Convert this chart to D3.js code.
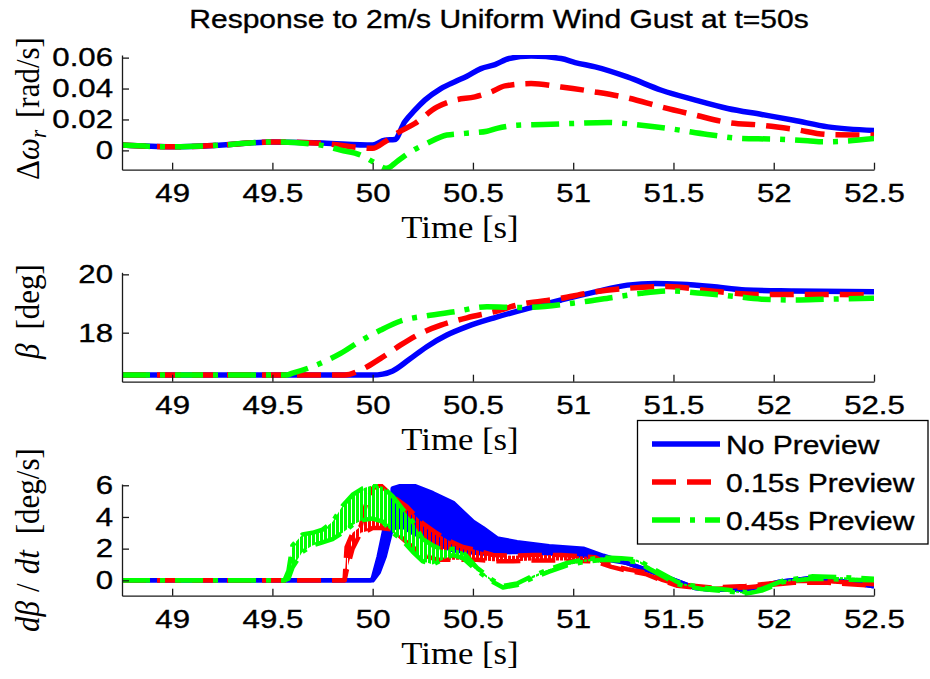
<!DOCTYPE html>
<html>
<head>
<meta charset="utf-8">
<script src="https://cdnjs.cloudflare.com/ajax/libs/d3/7.8.5/d3.min.js"></script>
<style>
body { margin: 0; background: #fff; }
svg { display: block; }
.axis path, .axis line { stroke: #1a1a1a; stroke-width: 1.3; }
.axis text { font-family: 'Liberation Sans', Arial, sans-serif; font-size: 26px; fill: #000; stroke: #000; stroke-width: 0.35; }
.label { font-family: 'Liberation Serif', 'Times New Roman', serif; font-size: 31px; fill: #000; }
.sans { font-family: 'Liberation Sans', Arial, sans-serif; fill: #000; stroke: #000; stroke-width: 0.35; }
</style>
</head>
<body>
<svg id="chart"></svg>
<script>
var width = 930,
  height = 679;

// time axis, shared by the three panels
var xTicks = [49, 49.5, 50, 50.5, 51, 51.5, 52, 52.5];
var seriesNames = ['No Preview', '0.15s Preview', '0.45s Preview'];

// panel 1: rotor speed deviation [rad/s]
var dwTicks = [0, 0.02, 0.04, 0.06];
var dwBlueT = [48.75, 49.0, 49.25, 49.5, 49.75, 50.0, 50.06, 50.11, 50.16, 50.21, 50.26, 50.34, 50.42, 50.47, 50.54, 50.61, 50.68, 50.79, 50.94, 51.01, 51.11, 51.27, 51.44, 51.61, 51.77, 51.94, 52.10, 52.27, 52.5];
var dwBlue = [0.0034, 0.0023, 0.0035, 0.0055, 0.0048, 0.0034, 0.0066, 0.007, 0.0185, 0.026, 0.0325, 0.040, 0.045, 0.048, 0.0529, 0.0555, 0.0594, 0.061, 0.0594, 0.0568, 0.054, 0.0475, 0.0389, 0.0325, 0.0271, 0.0232, 0.0195, 0.0152, 0.0129];
var dwRedT = [48.75, 49.0, 49.25, 49.5, 49.75, 50.0, 50.06, 50.12, 50.21, 50.32, 50.41, 50.51, 50.59, 50.66, 50.79, 50.94, 51.11, 51.27, 51.44, 51.61, 51.77, 51.94, 52.10, 52.27, 52.5];
var dwRed = [0.0034, 0.0023, 0.0035, 0.0055, 0.0045, 0.0013, 0.0055, 0.011, 0.0174, 0.028, 0.0325, 0.0346, 0.0378, 0.0417, 0.0432, 0.041, 0.0378, 0.034, 0.0281, 0.0228, 0.0181, 0.0163, 0.0137, 0.0103, 0.0099];
var dwGreenT = [48.75, 49.0, 49.25, 49.5, 49.74, 49.84, 49.94, 50.0, 50.07, 50.12, 50.19, 50.27, 50.37, 50.46, 50.57, 50.62, 50.72, 50.85, 50.99, 51.17, 51.34, 51.50, 51.67, 51.84, 52.0, 52.17, 52.25, 52.5];
var dwGreen = [0.0034, 0.0023, 0.0035, 0.0055, 0.0034, 0.0002, -0.003, -0.0073, -0.0116, -0.0073, -0.0009, 0.0045, 0.0099, 0.011, 0.0124, 0.0142, 0.0163, 0.0168, 0.0174, 0.0181, 0.0163, 0.0137, 0.0103, 0.0077, 0.0073, 0.0062, 0.0055, 0.0077];

// panel 2: pitch angle [deg]
var betaTicks = [18, 20];
var betaBlueT = [48.75, 50.0, 50.05, 50.1, 50.18, 50.27, 50.37, 50.47, 50.61, 50.78, 50.94, 51.11, 51.27, 51.41, 51.54, 51.69, 51.86, 52.1, 52.5];
var betaBlue = [16.55, 16.55, 16.58, 16.69, 17.07, 17.52, 17.92, 18.21, 18.52, 18.84, 19.12, 19.4, 19.63, 19.69, 19.66, 19.58, 19.46, 19.43, 19.4];
var betaRedT = [48.75, 49.86, 49.94, 50.04, 50.14, 50.24, 50.34, 50.47, 50.64, 50.69, 50.94, 51.11, 51.27, 51.47, 51.69, 51.91, 52.27, 52.5];
var betaRed = [16.55, 16.55, 16.72, 17.12, 17.58, 17.98, 18.26, 18.51, 18.78, 18.89, 19.18, 19.4, 19.52, 19.58, 19.43, 19.31, 19.31, 19.29];
var betaGreenT = [48.75, 49.57, 49.6, 49.74, 49.84, 49.94, 50.04, 50.14, 50.27, 50.41, 50.57, 50.74, 51.03, 51.19, 51.34, 51.49, 51.64, 51.77, 51.94, 52.10, 52.27, 52.5];
var betaGreen = [16.55, 16.55, 16.61, 16.95, 17.29, 17.72, 18.09, 18.4, 18.58, 18.72, 18.89, 18.86, 19.04, 19.2, 19.35, 19.43, 19.35, 19.27, 19.15, 19.12, 19.15, 19.18];

// panel 3: pitch rate [deg/s], oscillating, so kept as upper / lower envelope
var rateTicks = [0, 2, 4, 6];
var rateBlueT = [48.75, 49.99, 50.0, 50.03, 50.06, 50.09, 50.1, 50.15, 50.2, 50.3, 50.4, 50.5, 50.55, 50.62, 50.72, 50.88, 51.05, 51.15, 51.27, 51.44, 51.61, 51.69, 51.86, 52.02, 52.19, 52.35, 52.5];
var rateBlueHi = [0, 0, 0.1, 1.5, 3.3, 3.5, 5.8, 6.0, 6.0, 5.5, 4.9, 3.7, 3.3, 2.65, 2.4, 2.15, 2.0, 1.55, 1.09, 0.33, -0.49, -0.59, -0.59, -0.11, 0.15, -0.07, -0.38];
var rateBlueLo = [0, 0, 0, 0.5, 1.5, 3.0, 3.3, 3.4, 3.0, 2.4, 1.9, 1.75, 1.7, 1.75, 1.8, 1.7, 1.55, 1.35, 1.09, 0.33, -0.49, -0.59, -0.59, -0.11, 0.15, -0.07, -0.38];
var rateRedT = [48.75, 49.86, 49.87, 49.9, 49.94, 49.97, 50.0, 50.04, 50.1, 50.17, 50.25, 50.32, 50.39, 50.45, 50.52, 50.6, 50.7, 50.8, 50.94, 51.11, 51.19, 51.27, 51.36, 51.44, 51.52, 51.69, 51.86, 51.94, 52.1, 52.27, 52.5];
var rateRedHi = [0, 0, 2.1, 3.0, 3.4, 5.0, 5.8, 6.0, 5.3, 4.65, 3.6, 2.97, 2.44, 2.1, 1.9, 1.6, 1.55, 1.6, 1.6, 1.45, 0.95, 0.7, 0.5, 0.05, -0.25, -0.45, -0.35, -0.25, -0.05, -0.05, -0.25];
var rateRedLo = [0, 0, 0.6, 2.0, 3.0, 3.1, 3.3, 3.3, 3.2, 2.4, 1.6, 1.3, 1.3, 1.3, 1.3, 1.2, 1.2, 1.25, 1.25, 1.2, 0.85, 0.6, 0.4, 0.0, -0.35, -0.55, -0.45, -0.35, -0.15, -0.15, -0.35];
var rateGreenT = [48.75, 49.56, 49.58, 49.6, 49.65, 49.7, 49.75, 49.8, 49.85, 49.9, 49.95, 50.0, 50.05, 50.1, 50.15, 50.2, 50.25, 50.3, 50.35, 50.4, 50.45, 50.52, 50.6, 50.65, 50.72, 50.8, 50.88, 50.97, 51.05, 51.15, 51.24, 51.32, 51.44, 51.52, 51.64, 51.77, 51.86, 51.94, 52.05, 52.19, 52.35, 52.5];
var rateGreenHi = [0, 0, 0.6, 2.2, 2.9, 3.0, 3.2, 3.7, 4.7, 5.4, 5.8, 6.0, 5.9, 5.3, 4.5, 3.7, 2.6, 2.2, 1.9, 2.0, 1.8, 0.8, 0.0, -0.35, -0.2, 0.3, 0.7, 1.1, 1.3, 1.45, 1.4, 1.3, 0.45, -0.1, -0.45, -0.6, -0.75, -0.55, 0.0, 0.25, 0.2, 0.1];
var rateGreenLo = [0, 0, 0.1, 0.8, 1.8, 2.2, 2.4, 2.6, 3.0, 3.5, 3.8, 3.9, 3.7, 3.0, 2.5, 1.8, 1.2, 1.0, 1.3, 1.6, 1.4, 0.6, -0.1, -0.45, -0.3, 0.15, 0.55, 0.95, 1.15, 1.3, 1.25, 1.15, 0.3, -0.25, -0.55, -0.7, -0.85, -0.65, -0.1, 0.1, 0.05, 0.0];

var colors = ['#0000ff', '#ff0000', '#00ff00'];
var dashes = ['none', '24,11', '28,10,5,10'];
var textStretch = 1.2;

var svg = d3.select('#chart')
  .attr('width', width)
  .attr('height', height);

// vertical-stripe fills so the dense oscillation of the dashed series lets the others show through
var defs = svg.append('defs');
colors.forEach(function(c, i) {
  var pat = defs.append('pattern')
    .attr('id', 'band-' + i)
    .attr('patternUnits', 'userSpaceOnUse')
    .attr('width', 4)
    .attr('height', 10);
  pat.append('rect')
    .attr('width', i === 0 ? 4 : 3)
    .attr('height', 10)
    .style('fill', c);
});

var x = d3.scaleLinear()
  .domain([48.75, 52.5])
  .range([122, 874]);

function zip(t, v) {
  return t.map(function(d, i) { return {t: d, v: v[i]}; });
}

function zipBand(t, hi, lo) {
  return t.map(function(d, i) { return {t: d, hi: hi[i], lo: lo[i]}; });
}

// one panel: axes, clip, returns the y scale and the plot group
function makePanel(id, top, bottom, yDomain, yTicks, labelY, labelParts) {
  var y = d3.scaleLinear()
    .domain(yDomain)
    .range([bottom, top]);

  svg.append('clipPath')
    .attr('id', 'clip-' + id)
    .append('rect')
    .attr('x', x.range()[0])
    .attr('y', top)
    .attr('width', x.range()[1] - x.range()[0])
    .attr('height', bottom - top);

  var g = svg.append('g')
    .attr('clip-path', 'url(#clip-' + id + ')');

  var xAxis = d3.axisBottom(x)
    .tickValues(xTicks)
    .tickSizeInner(-7)
    .tickSizeOuter(0)
    .tickPadding(14)
    .tickFormat(function(d) { return String(d); });

  var yAxis = d3.axisLeft(y)
    .tickValues(yTicks)
    .tickSizeInner(-7)
    .tickSizeOuter(0)
    .tickPadding(7.5)
    .tickFormat(function(d) { return String(d); });

  svg.append('g')
    .attr('class', 'axis x')
    .attr('transform', 'translate(0,' + bottom + ')')
    .call(xAxis)
    .selectAll('text')
    .attr('transform', 'scale(' + textStretch + ',1)');

  svg.append('g')
    .attr('class', 'axis y')
    .attr('transform', 'translate(' + x.range()[0] + ',0)')
    .call(yAxis)
    .selectAll('text')
    .attr('transform', 'scale(' + textStretch + ',1)');

  svg.append('text')
    .attr('class', 'label')
    .attr('transform', 'translate(' + (x(50.5) - 13) + ',' + (bottom + 68) + ') scale(1.12,1)')
    .style('text-anchor', 'middle')
    .text('Time [s]');

  var yl = svg.append('text')
    .attr('class', 'label')
    .attr('transform', 'translate(39,' + labelY + ') rotate(-90) scale(1,1.12)')
    .style('text-anchor', 'middle');
  labelParts.forEach(function(p) {
    var ts = yl.append('tspan').text(p.s);
    if (p.italic) ts.style('font-style', 'italic');
    if (p.sub) ts.style('font-size', '21px').attr('dy', 6);
    if (p.up) ts.attr('dy', -6);
    if (p.dx) ts.attr('dx', p.dx);
  });

  return {y: y, g: g};
}

function drawLines(panel, list) {
  var line = d3.line()
    .x(function(d) { return x(d.t); })
    .y(function(d) { return panel.y(d.v); })
    .curve(d3.curveMonotoneX);
  list.forEach(function(s, i) {
    panel.g.append('path')
      .datum(s)
      .attr('d', line)
      .style('fill', 'none')
      .style('stroke', colors[i])
      .style('stroke-width', 5.5)
      .style('stroke-linejoin', 'round')
      .style('stroke-dasharray', dashes[i]);
  });
}

function drawBands(panel, list) {
  var area = d3.area()
    .x(function(d) { return x(d.t); })
    .y0(function(d) { return panel.y(d.lo); })
    .y1(function(d) { return panel.y(d.hi); });
  var hiLine = d3.line()
    .x(function(d) { return x(d.t); })
    .y(function(d) { return panel.y(d.hi); });
  var loLine = d3.line()
    .x(function(d) { return x(d.t); })
    .y(function(d) { return panel.y(d.lo); });
  list.forEach(function(s, i) {
    panel.g.append('path')
      .datum(s)
      .attr('d', area)
      .style('fill', 'url(#band-' + i + ')');
    [hiLine, loLine].forEach(function(l) {
      panel.g.append('path')
        .datum(s)
        .attr('d', l)
        .style('fill', 'none')
        .style('stroke', colors[i])
        .style('stroke-width', 4.5)
        .style('stroke-linejoin', 'round')
        .style('stroke-dasharray', dashes[i]);
    });
  });
}

// title
svg.append('text')
  .attr('class', 'sans')
  .attr('transform', 'translate(499,28) scale(' + textStretch + ',1)')
  .style('text-anchor', 'middle')
  .style('font-size', '25px')
  .text('Response to 2m/s Uniform Wind Gust at t=50s');

var p1 = makePanel('dw', 55, 169.7, [-0.0125, 0.0617], dwTicks, 108.5, [
  {s: 'Δ'}, {s: 'ω', italic: true}, {s: 'r', italic: true, sub: true}, {s: '[rad/s]', up: true, dx: 12}
]);
drawLines(p1, [zip(dwBlueT, dwBlue), zip(dwRedT, dwRed), zip(dwGreenT, dwGreen)]);

var p2 = makePanel('beta', 272.3, 381.7, [16.32, 20.07], betaTicks, 311.5, [
  {s: 'β', italic: true}, {s: '[deg]', dx: 14}
]);
drawLines(p2, [zip(betaBlueT, betaBlue), zip(betaRedT, betaRed), zip(betaGreenT, betaGreen)]);

var p3 = makePanel('rate', 484, 595.7, [-0.97, 6.08], rateTicks, 540, [
  {s: 'dβ', italic: true}, {s: '/', dx: 9}, {s: 'dt', italic: true, dx: 9}, {s: '[deg/s]', dx: 16}
]);
drawBands(p3, [
  zipBand(rateBlueT, rateBlueHi, rateBlueLo),
  zipBand(rateRedT, rateRedHi, rateRedLo),
  zipBand(rateGreenT, rateGreenHi, rateGreenLo)
]);

// legend
var legend = svg.append('g')
  .attr('class', 'legend');

legend.append('rect')
  .attr('x', 637.5)
  .attr('y', 420.5)
  .attr('width', 290.5)
  .attr('height', 123.5)
  .style('fill', '#fff')
  .style('stroke', '#000')
  .style('stroke-width', 1.3);

seriesNames.forEach(function(name, i) {
  var cy = 444 + i * 38;
  legend.append('line')
    .attr('x1', 652)
    .attr('x2', 720)
    .attr('y1', cy)
    .attr('y2', cy)
    .style('stroke', colors[i])
    .style('stroke-width', 5.5)
    .style('stroke-dasharray', dashes[i]);
  legend.append('text')
    .attr('class', 'sans')
    .attr('transform', 'translate(726,' + (cy + 9.5) + ') scale(' + textStretch + ',1)')
    .style('font-size', '25px')
    .text(name);
});
</script>
</body>
</html>
